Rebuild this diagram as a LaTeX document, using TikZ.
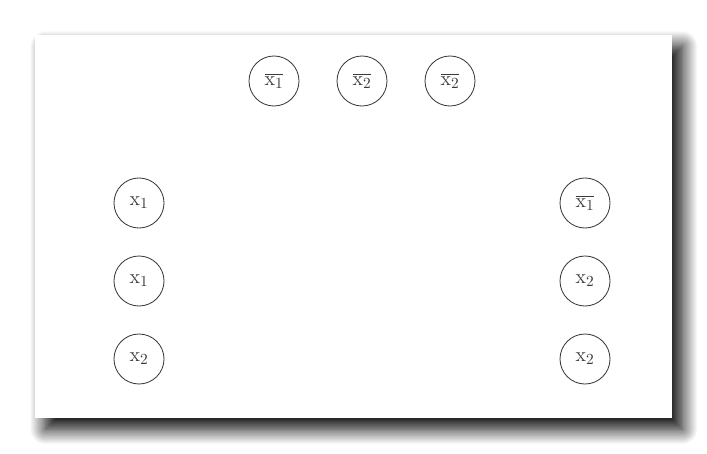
\documentclass[tikz,border=0pt]{standalone}
\usepackage{amsmath}
\usepackage{tikz}
\usetikzlibrary{shadows.blur}
\definecolor{ink}{HTML}{3A3A3A}
\tikzstyle{var}=[circle, draw=ink, line width=0.6pt, minimum size=1.25cm, inner sep=0pt, text=ink, font=\fontsize{15}{18}\selectfont]
\tikzstyle{card}=[fill=white, blur shadow={shadow xshift=0.26cm, shadow yshift=-0.28cm, shadow blur radius=0.38cm, shadow blur steps=20, shadow opacity=100}]

\begin{document}
\begin{tikzpicture}[x=0.025cm, y=-0.025cm]
		   \useasboundingbox (0,0) rectangle (707,453);
		   \node[card, minimum width=15.925cm, minimum height=9.575cm, inner sep=0pt] (card) at (353.5,226.5) {};
		   \begin{scope}
			   \node (0) at (274, 81)[var] {$\overline{\mathrm{x}_1}$};
			   \node (1) at (362, 81)[var] {$\overline{\mathrm{x}_2}$};
			   \node (2) at (450, 81)[var] {$\overline{\mathrm{x}_2}$};
			   \node (3) at (139, 203)[var] {$\mathrm{x}_1$};
			   \node (4) at (139, 281)[var] {$\mathrm{x}_1$};
			   \node (5) at (139, 359)[var] {$\mathrm{x}_2$};
			   \node (6) at (585, 203)[var] {$\overline{\mathrm{x}_1}$};
			   \node (7) at (585, 281)[var] {$\mathrm{x}_2$};
			   \node (8) at (585, 359)[var] {$\mathrm{x}_2$};
		   \end{scope}
	   \end{tikzpicture}
\end{document}
